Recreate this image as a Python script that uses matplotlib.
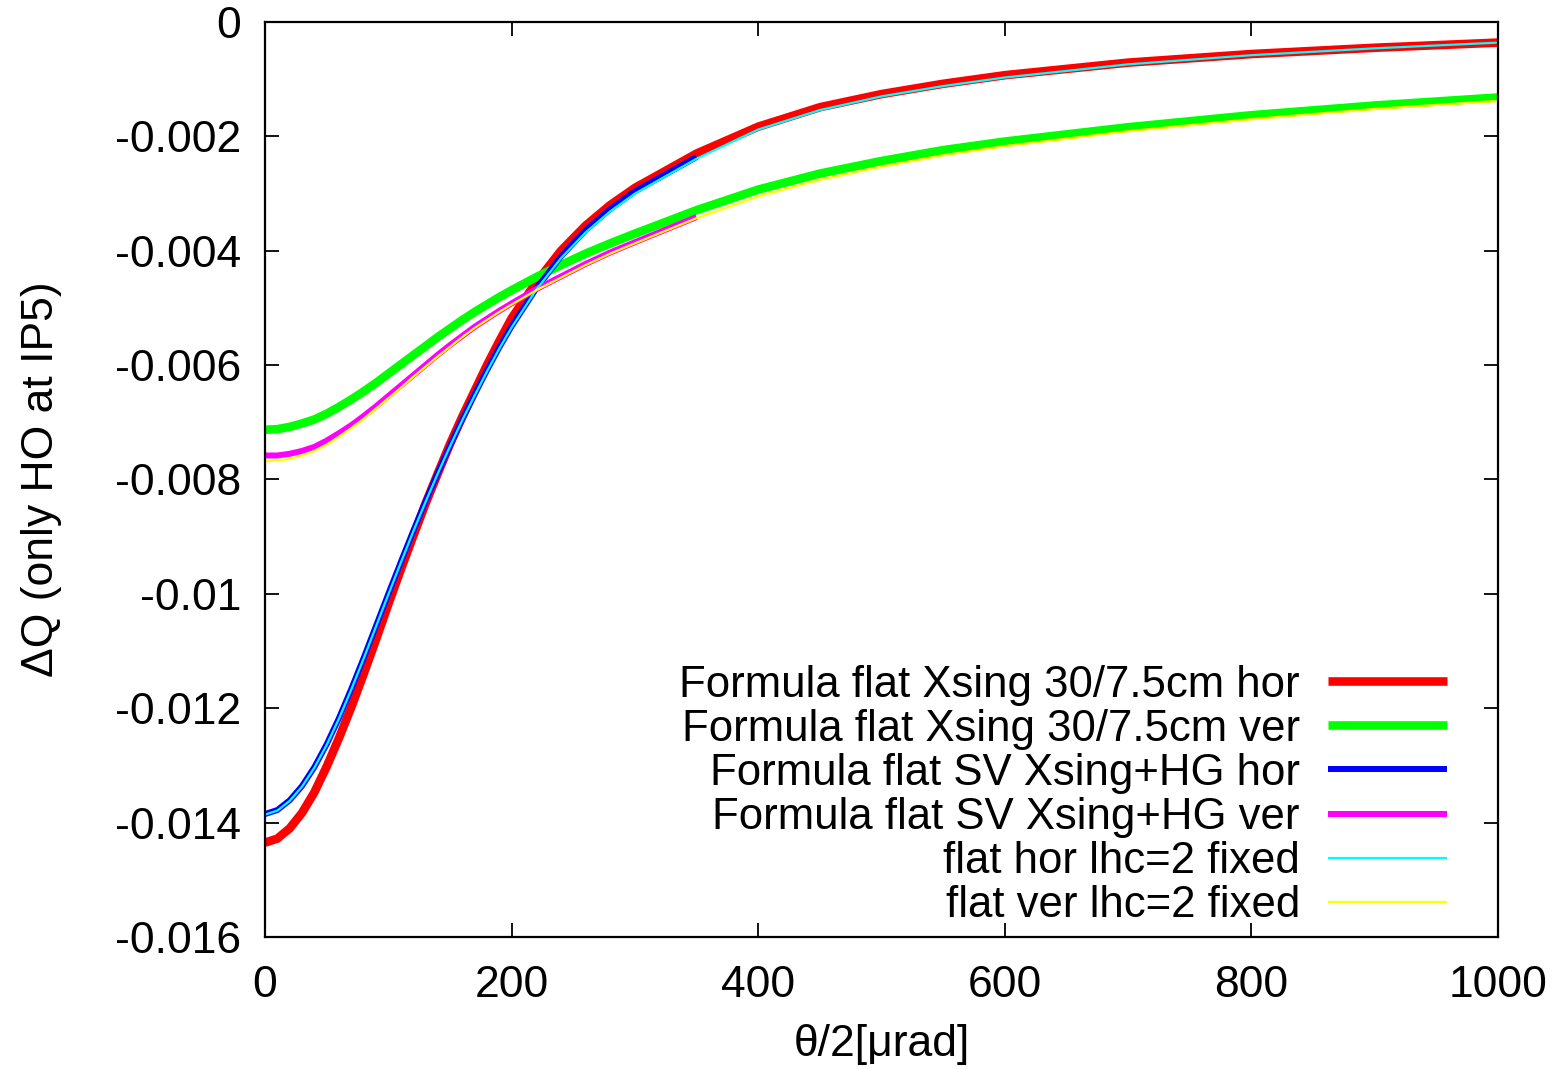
"""Tune shift vs half crossing angle: formula curves vs lhc=2 tracking (flat optics)."""

import matplotlib
matplotlib.use("Agg")
import matplotlib.pyplot as plt
from matplotlib.ticker import FuncFormatter, MultipleLocator

plt.rcParams["font.family"] = ["Liberation Sans", "DejaVu Sans"]
plt.rcParams["axes.unicode_minus"] = False

# ---------------------------------------------------------------- data
# half crossing angle [urad]
x_full = [0, 10, 20, 30, 40, 50, 60, 70, 80, 90, 100,
          110, 120, 130, 140, 150, 160, 170, 180, 190, 200,
          220, 240, 260, 280, 300, 350, 400, 450, 500, 550, 600,
          700, 800, 900, 1000]
x_short = x_full[:27]  # SV formula only computed up to 350 urad

formula_hor = [-0.01435, -0.01428, -0.01410, -0.01383, -0.01347, -0.01302, -0.01252,
               -0.01198, -0.01140, -0.01080, -0.01018,
               -0.00958, -0.00900, -0.00843, -0.00790, -0.00738, -0.00690, -0.00645,
               -0.00600, -0.00558, -0.00518,
               -0.00455, -0.00400, -0.00356, -0.00320, -0.00290, -0.00230, -0.00183,
               -0.00149, -0.00126, -0.00108, -0.00093,
               -0.00071, -0.00056, -0.00045, -0.00036]
formula_ver = [-0.00713, -0.00712, -0.00708, -0.00702, -0.00695, -0.00685, -0.00673,
               -0.00660, -0.00646, -0.00631, -0.00615,
               -0.00599, -0.00583, -0.00567, -0.00551, -0.00536, -0.00521, -0.00507,
               -0.00494, -0.00481, -0.00469,
               -0.00446, -0.00425, -0.00405, -0.00387, -0.00370, -0.00329, -0.00293,
               -0.00265, -0.00243, -0.00224, -0.00209,
               -0.00184, -0.00163, -0.00146, -0.00132]
sv_hor = [-0.01385, -0.01378, -0.01361, -0.01336, -0.01303, -0.01263, -0.01217,
          -0.01166, -0.01112, -0.01056, -0.01000,
          -0.00945, -0.00891, -0.00839, -0.00789, -0.00741, -0.00695, -0.00651,
          -0.00609, -0.00569, -0.00532,
          -0.00466, -0.00410, -0.00364, -0.00327, -0.00296, -0.00236]
sv_ver = [-0.00758, -0.00758, -0.00755, -0.00750, -0.00743, -0.00732, -0.00719,
          -0.00705, -0.00689, -0.00672, -0.00654,
          -0.00636, -0.00618, -0.00600, -0.00582, -0.00565, -0.00549, -0.00533,
          -0.00519, -0.00505, -0.00492,
          -0.00467, -0.00445, -0.00423, -0.00403, -0.00385, -0.00341]
lhc_hor = [-0.01386, -0.01379, -0.01362, -0.01337, -0.01304, -0.01264, -0.01218,
           -0.01167, -0.01113, -0.01057, -0.01001,
           -0.00946, -0.00892, -0.00840, -0.00790, -0.00742, -0.00696, -0.00653,
           -0.00611, -0.00571, -0.00534,
           -0.00468, -0.00413, -0.00368, -0.00331, -0.00300, -0.00239, -0.00188,
           -0.00154, -0.00130, -0.00112, -0.00097,
           -0.00074, -0.00058, -0.00046, -0.00036]
lhc_ver = [-0.00768, -0.00767, -0.00764, -0.00758, -0.00750, -0.00739, -0.00725,
           -0.00710, -0.00694, -0.00676, -0.00658,
           -0.00640, -0.00621, -0.00603, -0.00585, -0.00568, -0.00551, -0.00535,
           -0.00521, -0.00507, -0.00494,
           -0.00469, -0.00447, -0.00425, -0.00405, -0.00387, -0.00343, -0.00305,
           -0.00276, -0.00253, -0.00233, -0.00217,
           -0.00191, -0.00170, -0.00152, -0.00138]

labels = ["Formula flat Xsing 30/7.5cm hor", "Formula flat Xsing 30/7.5cm ver",
          "Formula flat SV Xsing+HG hor", "Formula flat SV Xsing+HG ver",
          "flat hor lhc=2 fixed", "flat ver lhc=2 fixed"]

FS = 32

# ---------------------------------------------------------------- figure
fig = plt.figure(figsize=(15.59, 10.69), dpi=100)
ax = fig.add_axes([0.170, 0.1235, 0.7909, 0.8559])

series = [
    (x_full, formula_hor, "#ff0000", 6.2),
    (x_full, formula_ver, "#00ff00", 6.2),
    (x_short, sv_hor, "#0000ff", 4.3),
    (x_short, sv_ver, "#ff00ff", 4.3),
    (x_full, lhc_hor, "#00ffff", 1.6),
    (x_full, lhc_ver, "#ffff00", 1.6),
]
for (xs, ys, col, lw), lab in zip(series, labels):
    ax.plot(xs, ys, color=col, lw=lw, label=lab, solid_capstyle="butt")

ax.set_xlim(0, 1000)
ax.set_ylim(-0.016, 0)
ax.xaxis.set_major_locator(MultipleLocator(200))
ax.yaxis.set_major_locator(MultipleLocator(0.002))
ax.yaxis.set_major_formatter(FuncFormatter(lambda v, _: "%g" % round(v, 6)))

ax.tick_params(direction="in", length=10, width=1.3, labelsize=FS,
               top=True, right=True)
ax.tick_params(axis="y", pad=17)
ax.tick_params(axis="x", pad=20)
for sp in ax.spines.values():
    sp.set_linewidth(1.6)

ax.set_xlabel("θ/2[μrad]", fontsize=FS, labelpad=13)
ax.set_ylabel("ΔQ (only HO at IP5)", fontsize=FS, labelpad=38)

leg = ax.legend(loc="lower right", bbox_to_anchor=(0.9586, 0.012),
                frameon=False, fontsize=31.5, markerfirst=False,
                handlelength=2.72, handletextpad=0.64, labelspacing=0.07,
                borderpad=0, borderaxespad=0)

fig.savefig("out.png", dpi=100)
